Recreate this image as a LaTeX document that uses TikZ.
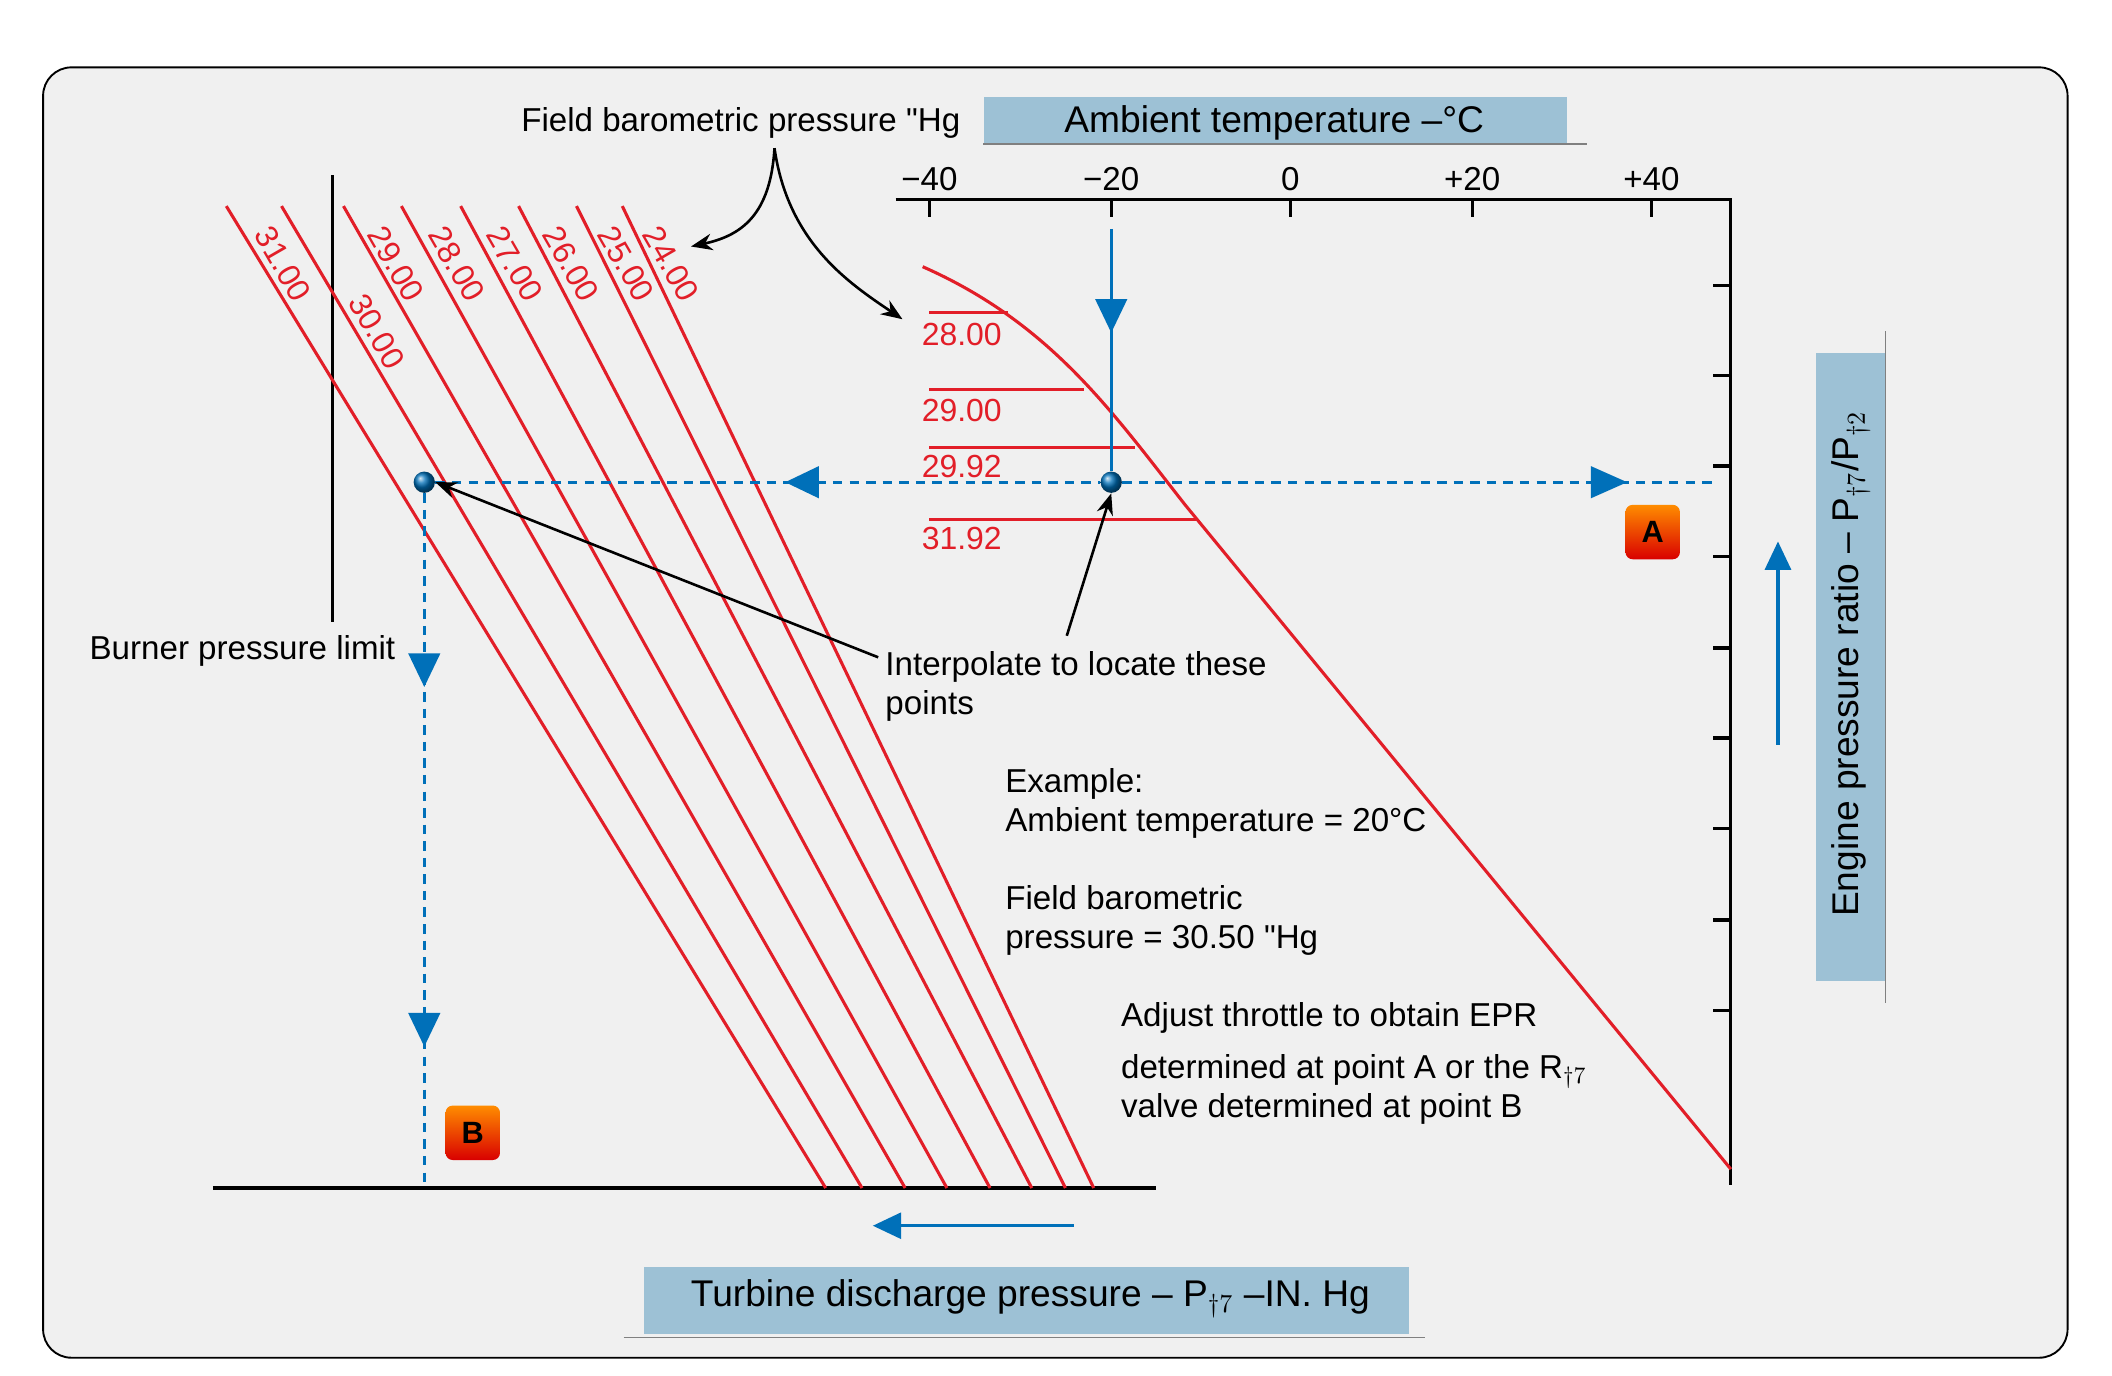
\documentclass[tikz,border=0pt]{standalone}
\usepackage{fontspec}
\setmainfont{Liberation Sans}
\usetikzlibrary{arrows.meta}
\definecolor{bgc}{RGB}{240,240,240}
\definecolor{lbl}{RGB}{157,193,213}
\definecolor{rd}{RGB}{226,30,40}
\definecolor{bl}{RGB}{0,112,185}
\tikzset{
 txt/.style={font=\fontsize{14}{16.5}\selectfont, inner sep=0pt},
 big/.style={txt, font=\fontsize{15.7}{18}\selectfont},
 rlab/.style={txt, text=rd, font=\fontsize{13.5}{15}\selectfont},
 rline/.style={rd, line width=1.3pt},
 bline/.style={bl, line width=1.3pt},
 bdash/.style={bl, line width=1.3pt, dash pattern=on 4pt off 3pt},
 ax/.style={black, line width=1.4pt},
 box/.style={fill=lbl, draw=none},
 tri/.style={fill=bl, draw=none},
 pt/.style={circle, inner sep=0pt, minimum size=9pt, ball color=bl, draw=none},
 tag/.style={rounded corners=3pt, minimum size=23pt, inner sep=0pt, top color=orange!90!yellow, bottom color=red!85!black, font=\bfseries\fontsize{13}{15}\selectfont},
 carr/.style={black, line width=1.1pt, -{Stealth[length=9pt,width=7pt]}}
}
\begin{document}
\begin{tikzpicture}[x=0.02cm,y=-0.02cm]
\useasboundingbox (0,0) rectangle (1568,1021);
\draw[fill=bgc, line width=0.8pt, rounded corners=12pt] (32,50) rectangle (1535,1008);
% top label
\node[box, minimum width=433*0.02cm, minimum height=35*0.02cm, anchor=north west] (tbox) at (730,72) {};
\node[big] (ttxt) at (946,91) {Ambient temperature –°C};
\coordinate (tl1) at (730,107); \coordinate (tl2) at (1178,107);
\draw[gray, line width=0.6pt] (tl1) -- (tl2);
\node[txt] (fbp) at (550,91) {Field barometric pressure \textquotedbl Hg};
% axes
\coordinate (a0) at (665,148); \coordinate (a1) at (1285,148); \coordinate (a2) at (1285,880);
\draw[ax] (a0) -- (a1) -- (a2);
\foreach \x/\l in {690/−40,825/−20,958/0,1093/+20,1226/+40}{
  \draw[ax] (\x,148) -- (\x,161);
  \node[txt] at (\x,133) {\l};}
\foreach \y in {212,279,346,413,481,548,615,683,750}{\draw[ax] (1272,\y) -- (1285,\y);}
% right label
\node[box, minimum width=52*0.02cm, minimum height=466*0.02cm, anchor=north west] (rbox) at (1348,262) {};
\node[big, rotate=90] (rtxt) at (1374,493) {Engine pressure ratio – P$_{\dagger7}$/P$_{\dagger2}$};
\coordinate (rl1) at (1400,246); \coordinate (rl2) at (1400,745);
\draw[gray, line width=0.6pt] (rl1) -- (rl2);
\coordinate (ua0) at (1320,553); \coordinate (ua1) at (1320,402);
\draw[bline, -{Triangle[length=12pt,width=11pt]}] (ua0) -- (ua1);
% bottom label
\node[box, minimum width=568*0.02cm, minimum height=50*0.02cm, anchor=north west] (bbox) at (478,940) {};
\node[big] (btxt) at (765,964) {Turbine discharge pressure – P$_{\dagger7}$ –IN. Hg};
\coordinate (bl1) at (463,993); \coordinate (bl2) at (1058,993);
\draw[gray, line width=0.6pt] (bl1) -- (bl2);
\coordinate (la0) at (797,910); \coordinate (la1) at (648,910);
\draw[bline, -{Triangle[length=12pt,width=11pt]}] (la0) -- (la1);
% bottom axis
\coordinate (x0) at (158,882); \coordinate (x1) at (858,882);
\draw[ax] (x0) -- (x1);
% burner limit
\coordinate (bp0) at (247,130); \coordinate (bp1) at (247,462);
\draw[ax] (bp0) -- (bp1);
\node[txt] (bpl) at (180,483) {Burner pressure limit};
% red diagonals
\foreach \a/\b in {168/613,209/640,255/672,298/703,342/735,385/766,428/791,462/812}{
  \draw[rline] (\a,153) -- (\b,882);}
\foreach \x/\y/\l in {210/196/31.00,280/246/30.00,294/196/29.00,339/196/28.00,382/196/27.00,424/196/26.00,465/196/25.00,498/196/24.00}{
  \node[rlab, rotate=-60] at (\x,\y) {\l};}
% red curve
\coordinate (c0) at (685,198); \coordinate (c1) at (880,375); \coordinate (c2) at (1285,868);
\draw[rline] (c0) .. controls (780,240) and (825,305) .. (c1) -- (c2);
\foreach \y/\e/\l/\ly in {232/748/28.00/248,289/805/29.00/305,332/843/29.92/346,386/889/31.92/400}{
  \draw[rline] (690,\y) -- (\e,\y);
  \node[rlab, anchor=west] at (684,\ly) {\l};}
% blue
\node[pt] (p1) at (315,358) {};
\node[pt] (p2) at (825,358) {};
\coordinate (v0) at (825,170);
\draw[bline] (v0) -- (p2);
\fill[tri] (813,222) -- (837,222) -- (825,247) -- cycle;
\coordinate (hE) at (1272,358);
\draw[bdash] (p1) -- (p2) -- (hE);
\fill[tri] (583,358) -- (608,346) -- (608,370) -- cycle;
\fill[tri] (1208,358) -- (1181,346) -- (1181,370) -- cycle;
\coordinate (vE) at (315,882);
\draw[bdash] (p1) -- (vE);
\fill[tri] (303,485) -- (327,485) -- (315,510) -- cycle;
\fill[tri] (303,752) -- (327,752) -- (315,777) -- cycle;
\node[tag] (A) at (1227,395) {A};
\node[tag] (B) at (351,841) {B};
% annotations
\coordinate (fa) at (575,110);
\draw[carr] (fa) .. controls (572,160) and (550,175) .. (513,183);
\draw[carr] (fa) .. controls (585,180) and (630,210) .. (670,237);
\node[txt, anchor=north west, align=left] (interp) at (657,483) {Interpolate to locate these\\points};
\coordinate (i1) at (652,488); \coordinate (i2) at (792,472);
\draw[carr] (i1) -- (p1.east);
\draw[carr] (i2) -- (p2.south);
\node[txt, anchor=north west, align=left] (ex) at (746,570) {Example:\\Ambient temperature = 20°C\\[16.5pt]Field barometric\\pressure = 30.50 \textquotedbl Hg};
\node[txt, anchor=north west, align=left] (adj) at (832,744) {Adjust throttle to obtain EPR\\[5.5pt]determined at point A or the R$_{\dagger7}$\\valve determined at point B};
\end{tikzpicture}
\end{document}
